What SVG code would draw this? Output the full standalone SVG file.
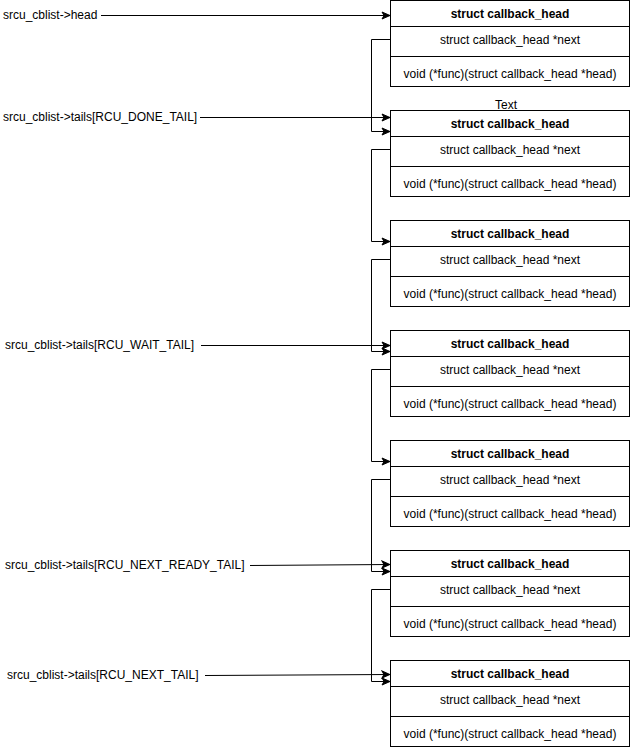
<svg xmlns="http://www.w3.org/2000/svg" width="631" height="750" viewBox="0 0 631 750">
<defs>
<marker id="arr" markerUnits="userSpaceOnUse" markerWidth="10" markerHeight="10" viewBox="0 0 10 10" refX="9" refY="5" orient="auto">
<path d="M1,1.5 L9,5 L1,8.5 L3,5 Z" fill="#000" stroke="#000" stroke-width="1"/>
</marker>
</defs>
<style>
.box{fill:#fff;stroke:#000;stroke-width:1}
.t{font-family:"Liberation Sans",Arial,sans-serif;font-size:12px;fill:#000}
.c{text-anchor:middle}
.b{font-weight:bold}
.ln{fill:none;stroke:#000;stroke-width:1}
</style>
<rect width="631" height="750" fill="#fff"/>
<g id="nodes">
<g id="node1" transform="translate(0,0.5)">
<rect class="box" x="390.5" y="0" width="239" height="86"/><line class="ln" x1="390.5" y1="26" x2="629.5" y2="26"/><line class="ln" x1="390.5" y1="56" x2="629.5" y2="56"/>
<text class="t c b" x="510" y="17">struct callback_head</text><text class="t c" x="510" y="43">struct callback_head *next</text><text class="t c" x="510" y="77">void (*func)(struct callback_head *head)</text>
</g>
<g id="node2" transform="translate(0,110.5)">
<rect class="box" x="390.5" y="0" width="239" height="86"/><line class="ln" x1="390.5" y1="26" x2="629.5" y2="26"/><line class="ln" x1="390.5" y1="56" x2="629.5" y2="56"/>
<text class="t c b" x="510" y="17">struct callback_head</text><text class="t c" x="510" y="43">struct callback_head *next</text><text class="t c" x="510" y="77">void (*func)(struct callback_head *head)</text>
</g>
<g id="node3" transform="translate(0,220.5)">
<rect class="box" x="390.5" y="0" width="239" height="86"/><line class="ln" x1="390.5" y1="26" x2="629.5" y2="26"/><line class="ln" x1="390.5" y1="56" x2="629.5" y2="56"/>
<text class="t c b" x="510" y="17">struct callback_head</text><text class="t c" x="510" y="43">struct callback_head *next</text><text class="t c" x="510" y="77">void (*func)(struct callback_head *head)</text>
</g>
<g id="node4" transform="translate(0,330.5)">
<rect class="box" x="390.5" y="0" width="239" height="86"/><line class="ln" x1="390.5" y1="26" x2="629.5" y2="26"/><line class="ln" x1="390.5" y1="56" x2="629.5" y2="56"/>
<text class="t c b" x="510" y="17">struct callback_head</text><text class="t c" x="510" y="43">struct callback_head *next</text><text class="t c" x="510" y="77">void (*func)(struct callback_head *head)</text>
</g>
<g id="node5" transform="translate(0,440.5)">
<rect class="box" x="390.5" y="0" width="239" height="86"/><line class="ln" x1="390.5" y1="26" x2="629.5" y2="26"/><line class="ln" x1="390.5" y1="56" x2="629.5" y2="56"/>
<text class="t c b" x="510" y="17">struct callback_head</text><text class="t c" x="510" y="43">struct callback_head *next</text><text class="t c" x="510" y="77">void (*func)(struct callback_head *head)</text>
</g>
<g id="node6" transform="translate(0,550.5)">
<rect class="box" x="390.5" y="0" width="239" height="86"/><line class="ln" x1="390.5" y1="26" x2="629.5" y2="26"/><line class="ln" x1="390.5" y1="56" x2="629.5" y2="56"/>
<text class="t c b" x="510" y="17">struct callback_head</text><text class="t c" x="510" y="43">struct callback_head *next</text><text class="t c" x="510" y="77">void (*func)(struct callback_head *head)</text>
</g>
<g id="node7" transform="translate(0,660.5)">
<rect class="box" x="390.5" y="0" width="239" height="86"/><line class="ln" x1="390.5" y1="26" x2="629.5" y2="26"/><line class="ln" x1="390.5" y1="56" x2="629.5" y2="56"/>
<text class="t c b" x="510" y="17">struct callback_head</text><text class="t c" x="510" y="43">struct callback_head *next</text><text class="t c" x="510" y="77">void (*func)(struct callback_head *head)</text>
</g>
<g id="labels">
<text class="t" x="3" y="19">srcu_cblist-&gt;head</text>
<text class="t" x="3" y="121">srcu_cblist-&gt;tails[RCU_DONE_TAIL]</text>
<text class="t" x="5" y="349">srcu_cblist-&gt;tails[RCU_WAIT_TAIL]</text>
<text class="t" x="5" y="569">srcu_cblist-&gt;tails[RCU_NEXT_READY_TAIL]</text>
<text class="t" x="7" y="679">srcu_cblist-&gt;tails[RCU_NEXT_TAIL]</text>
<text class="t c" x="506" y="109">Text</text>
</g>
</g>
<g id="connectors">
<path class="ln" d="M101,15.5 H390" marker-end="url(#arr)"/>
<path class="ln" d="M200,117.5 H390" marker-end="url(#arr)"/>
<path class="ln" d="M201,345.5 H390" marker-end="url(#arr)"/>
<path class="ln" d="M250,565.5 L390,564.5" marker-end="url(#arr)"/>
<path class="ln" d="M205,675.5 L390,674.5" marker-end="url(#arr)"/>
<path class="ln" d="M390.5,39.5 H371.5 V131.5 H390" marker-end="url(#arr)"/>
<path class="ln" d="M390.5,149.5 H371.5 V241.5 H390" marker-end="url(#arr)"/>
<path class="ln" d="M390.5,259.5 H371.5 V351.5 H390" marker-end="url(#arr)"/>
<path class="ln" d="M390.5,369.5 H371.5 V461.5 H390" marker-end="url(#arr)"/>
<path class="ln" d="M390.5,479.5 H371.5 V571.5 H390" marker-end="url(#arr)"/>
<path class="ln" d="M390.5,589.5 H371.5 V681.5 H390" marker-end="url(#arr)"/>
</g>
</svg>
